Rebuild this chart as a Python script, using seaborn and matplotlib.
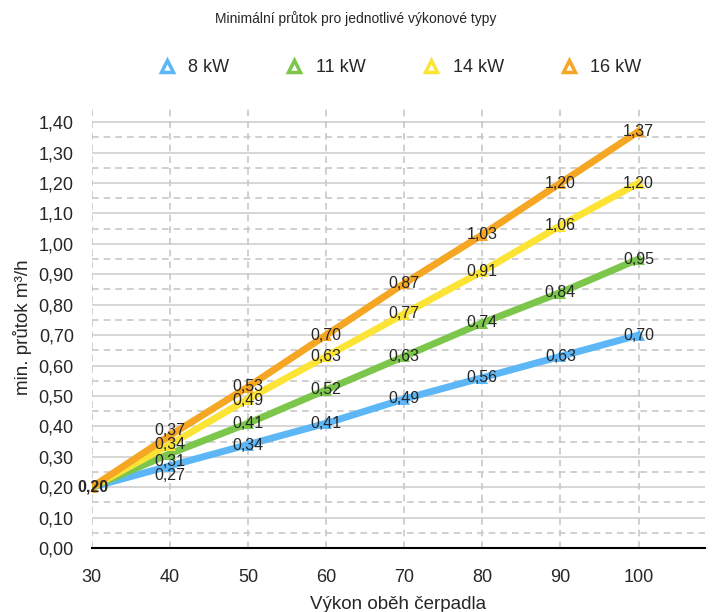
import numpy as np
import pandas as pd
import matplotlib.pyplot as plt
import seaborn as sns
from matplotlib.lines import Line2D

# ---------- Data ----------
vykon = [30, 40, 50, 60, 70, 80, 90, 100]
series_names = ["8 kW", "11 kW", "14 kW", "16 kW"]
kw8 = [0.20, 0.27, 0.34, 0.41, 0.49, 0.56, 0.63, 0.70]
kw11 = [0.20, 0.31, 0.41, 0.52, 0.63, 0.74, 0.84, 0.95]
kw14 = [0.20, 0.34, 0.49, 0.63, 0.77, 0.91, 1.06, 1.20]
kw16 = [0.20, 0.37, 0.53, 0.70, 0.87, 1.03, 1.20, 1.37]
colors = ["#5DB7F7", "#7CC64B", "#FCE436", "#F5A623"]

df = pd.DataFrame({
    "Výkon": vykon * 4,
    "průtok": kw8 + kw11 + kw14 + kw16,
    "typ": [n for n in series_names for _ in vykon],
})

sns.set_style("white")
plt.rcParams["font.family"] = ["Liberation Sans", "DejaVu Sans"]

fig = plt.figure(figsize=(7.12, 6.12), dpi=100)
ax = fig.add_axes([0.129, 0.1046, 0.861, 0.7205])

# grid: solid at 0.1, dashed at 0.05 in between
for v in np.arange(0.1, 1.45, 0.1):
    ax.axhline(v, color="#d0d0d0", lw=1.2, zorder=0)
for v in np.arange(0.05, 1.45, 0.1):
    ax.axhline(v, color="#c8c8c8", lw=1.2, ls=(0, (4, 3)), zorder=0)
for v in vykon:
    ax.axvline(v, color="#c8c8c8", lw=1.2, ls=(0, (4, 3)), zorder=0)

sns.lineplot(data=df, x="Výkon", y="průtok", hue="typ", palette=colors,
             hue_order=series_names, lw=5, marker="^", markersize=9,
             markeredgewidth=0, legend=False, ax=ax, zorder=3)

# value labels (small vertical nudges in pixels where labels crowd)
nudge = {("16 kW", 40): 5, ("11 kW", 40): -8, ("8 kW", 40): -10,
         ("14 kW", 50): -2, ("8 kW", 50): -1}
for name, vals in zip(series_names, [kw8, kw11, kw14, kw16]):
    for i, (x, y) in enumerate(zip(vykon, vals)):
        lbl = f"{y:.2f}".replace(".", ",")
        if i == 0:
            if name == "8 kW":
                ax.text(x + 0.2, y, lbl, ha="center", va="center", fontsize=11.5,
                        fontweight="bold", zorder=5)
            continue
        ax.annotate(lbl, (x, y), xytext=(0, nudge.get((name, x), 0)),
                    textcoords="offset pixels", ha="center", va="center",
                    fontsize=11.5, zorder=5)

ax.set_xlim(30, 108.5)
ax.set_ylim(0, 1.45)
ax.set_xticks(vykon)
ax.set_yticks(np.arange(0, 1.41, 0.1))
ax.set_yticklabels([f"{v:.2f}".replace(".", ",") for v in np.arange(0, 1.41, 0.1)])
ax.tick_params(axis="x", direction="out", length=6, width=1.2, color="black",
               labelsize=13, pad=9)
ax.tick_params(axis="y", length=0, labelsize=13, pad=13)
for s in ["top", "right", "left"]:
    ax.spines[s].set_visible(False)
ax.spines["bottom"].set_color("black")
ax.spines["bottom"].set_linewidth(1.5)
ax.set_xlabel("Výkon oběh čerpadla", fontsize=13.5, labelpad=7)
ax.set_ylabel("min. průtok m³/h", fontsize=13.5, labelpad=5)

fig.text(0.5, 0.97, "Minimální průtok pro jednotlivé výkonové typy",
         ha="center", va="center", fontsize=10)

handles = [Line2D([], [], ls="none", marker="^", markersize=8, markerfacecolor="white",
                  markeredgecolor=c, markeredgewidth=2.5) for c in colors]
fig.legend(handles, series_names, loc="center", bbox_to_anchor=(0.56, 0.89),
           ncol=4, frameon=False, fontsize=13, columnspacing=3.0, handletextpad=0.6,
           handlelength=1.2)

plt.savefig("out.png", dpi=100)
